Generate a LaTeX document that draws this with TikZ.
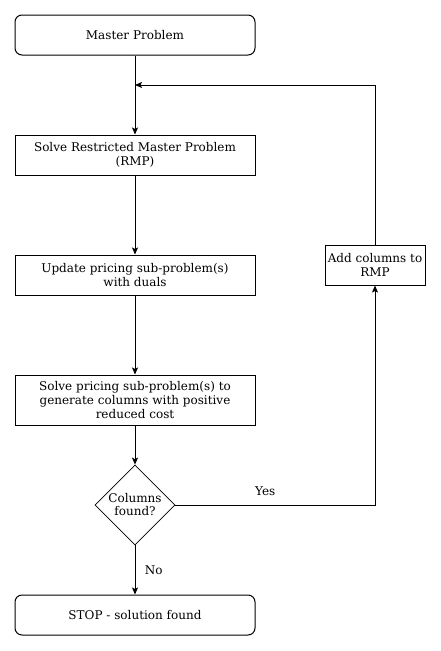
\documentclass[tikz,border=0pt]{standalone}
\usepackage{fontspec}
\setmainfont{DejaVu Serif}
\usetikzlibrary{shapes.geometric,arrows.meta}
\begin{document}
\begin{tikzpicture}[x=1pt,y=-1pt,
  box/.style={draw,line width=1pt,minimum width=240pt,align=center,inner sep=0pt,font=\fontsize{12}{14}\selectfont},
  rbox/.style={box,rounded corners=7pt},
  dec/.style={draw,line width=0.7pt,diamond,aspect=1,minimum width=80pt,minimum height=80pt,inner sep=0pt,align=center,font=\fontsize{12}{13}\selectfont},
  conn/.style={line width=1pt,-{Stealth[length=7pt,width=6pt,inset=1.5pt]}},
  lbl/.style={font=\fontsize{12}{14}\selectfont}]
\useasboundingbox (0,0) rectangle (441,651);
\node[rbox,minimum height=40pt] (mp) at (135,35) {Master Problem};
\node[box,minimum height=40pt] (rmp) at (135,155) {Solve Restricted Master Problem\\(RMP)};
\node[box,minimum height=40pt] (upd) at (135,275) {Update pricing sub-problem(s)\\with duals};
\node[box,minimum height=50pt] (sp) at (135,400) {Solve pricing sub-problem(s) to\\generate columns with positive\\reduced cost};
\node[dec] (cf) at (135,505) {Columns\\found?};
\node[rbox,minimum height=40pt] (stop) at (135,615) {STOP - solution found};
\node[box,minimum width=100pt,minimum height=40pt] (add) at (375,265) {Add columns to\\RMP};
\coordinate (m) at (135,85);
\draw[conn] (mp) -- (rmp);
\draw[conn] (rmp) -- (upd);
\draw[conn] (upd) -- (sp);
\draw[conn] (sp) -- (cf);
\draw[conn] (cf) -- node[lbl,right=6pt,pos=0.5] (no) {No} (stop);
\draw[conn] (cf.east) -| node[lbl,above=6pt,pos=0.225] (yes) {Yes} (add.south);
\draw[conn] (add.north) |- (m);
\end{tikzpicture}
\end{document}
